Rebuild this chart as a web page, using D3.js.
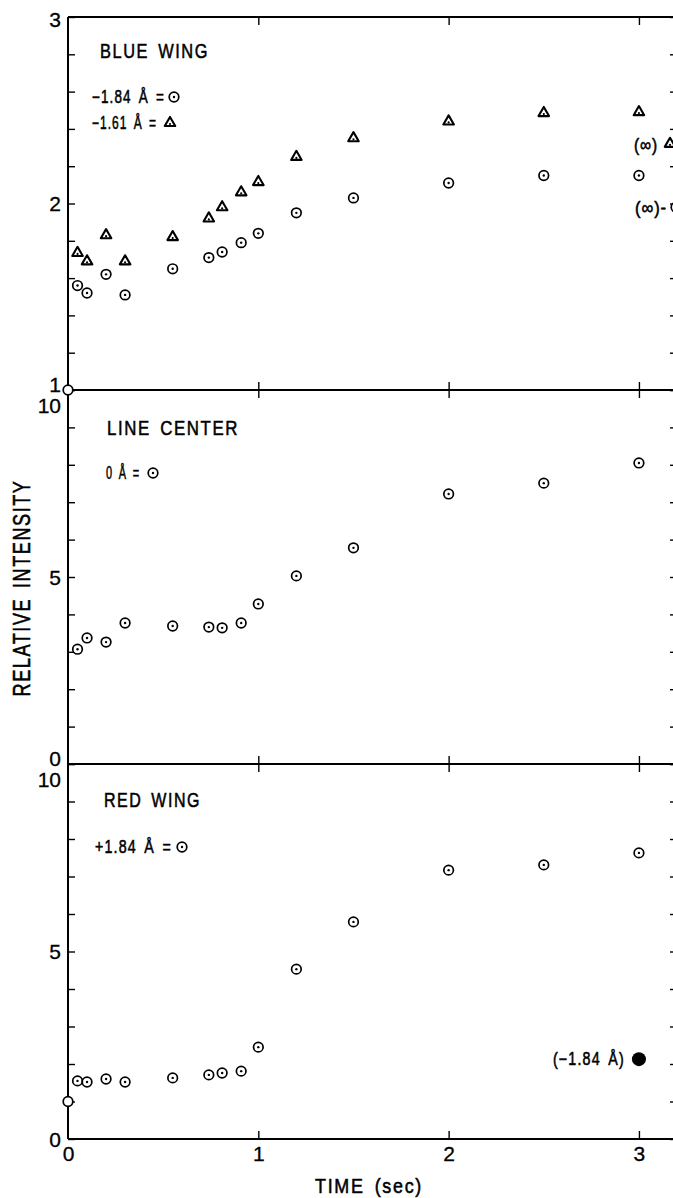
<!DOCTYPE html>
<html>
<head>
<meta charset="utf-8">
<script src="https://cdn.jsdelivr.net/npm/d3@7"></script>
<style>
  body { margin: 0; background: #fff; }
  svg { display: block; }
  text { font-family: "Liberation Sans", Arial, sans-serif; fill: #000; stroke: #000; stroke-width: 0.55px; }
  .tick line { stroke: #000; stroke-width: 1.4; }
</style>
</head>
<body>
<div id="chart"></div>
<script>
// observation times (sec)
var times = [0.05, 0.1, 0.2, 0.3, 0.55, 0.74, 0.81, 0.91, 1.0, 1.2, 1.5, 2.0, 2.5, 3.0];

// blue wing, -1.84 A (circles) and -1.61 A (triangles)
var blueCircle   = [1.56, 1.52, 1.62, 1.51, 1.65, 1.71, 1.74, 1.79, 1.84, 1.95, 2.03, 2.11, 2.15, 2.15];
var blueTriangle = [1.735, 1.69, 1.83, 1.69, 1.82, 1.92, 1.98, 2.06, 2.115, 2.25, 2.35, 2.44, 2.485, 2.49];
// line center, 0 A
var centerCircle = [3.07, 3.37, 3.26, 3.77, 3.69, 3.66, 3.64, 3.77, 4.28, 5.03, 5.78, 7.22, 7.51, 8.05];
// red wing, +1.84 A
var redCircle    = [1.55, 1.52, 1.60, 1.52, 1.63, 1.71, 1.76, 1.81, 2.45, 4.53, 5.79, 7.17, 7.31, 7.63];

// starting point at t = 0 (blue and red panels)
var startTime = [0];
var startValue = [1.0];
// -1.84 A value shown in the red panel for comparison
var compareTime = [3.0];
var compareValue = [2.13];
// (infinity) levels marked at the right of the blue panel
var infinityTriangle = [2.32];
var infinityCircle = [1.98];

// tick labels
var xTicks = [0, 1, 2, 3];
var blueMajor = [1, 2, 3];
var blueMinor = [1.2, 1.4, 1.6, 1.8, 2.2, 2.4, 2.6, 2.8];
var intMajor = [0, 5, 10];
var intMinor = [1, 2, 3, 4, 6, 7, 8, 9];

var width = 673, height = 1198;

var svg = d3.select("#chart").append("svg")
    .attr("width", width)
    .attr("height", height);

svg.append("rect").attr("width", width).attr("height", height).attr("fill", "#fff");

var xScale = d3.scaleLinear().domain([0, 3.2]).range([68, 677]);

// condensed, spaced lettering: force the width of a label
function label(g, x, y, s, size, len, spacing, anchor) {
  return g.append("text")
      .attr("x", x).attr("y", y)
      .attr("text-anchor", anchor || "start")
      .attr("textLength", len)
      .attr("lengthAdjust", "spacingAndGlyphs")
      .style("font-size", size + "px")
      .style("letter-spacing", spacing + "px")
      .style("word-spacing", (spacing * 2) + "px")
      .text(s);
}

var panels = [
  { top: 17,  bottom: 390,  domain: [1, 3],  major: blueMajor, minor: blueMinor, title: "BLUE WING",   tx: 100, ty: 58, tl: 109 },
  { top: 390, bottom: 764,  domain: [0, 10], major: intMajor,  minor: intMinor,  title: "LINE CENTER", tx: 107, ty: 435, tl: 132 },
  { top: 764, bottom: 1139, domain: [0, 10], major: intMajor,  minor: intMinor,  title: "RED WING",    tx: 104, ty: 807, tl: 97 }
];

panels.forEach(function(p, i) {
  p.y = d3.scaleLinear().domain(p.domain).range([p.bottom, p.top]);
  var all = p.major.concat(p.minor);

  // left axis, ticks pointing in
  var left = svg.append("g")
      .attr("transform", "translate(" + xScale(0) + ",0)")
      .call(d3.axisLeft(p.y).tickValues(all).tickSizeInner(-7).tickSizeOuter(0).tickPadding(7)
        .tickFormat(function(d) { return p.major.indexOf(d) >= 0 ? d : ""; }));
  left.select(".domain").remove();
  left.selectAll("text")
      .style("font-size", "21px")
      .style("stroke-width", "0.3px")
      .attr("dy", function(d) {
        if (d === p.domain[1] && i > 0) return "1.05em";
        if (d === p.domain[1]) return "0.45em";
        if (d === p.domain[0] && i < 2) return "0.05em";
        return "0.34em";
      });

  // right axis (edge cut by the page)
  var right = svg.append("g")
      .attr("transform", "translate(" + xScale(3.2) + ",0)")
      .call(d3.axisRight(p.y).tickValues(all).tickSizeInner(-7).tickSizeOuter(0).tickFormat(""));
  right.select(".domain").remove();

  // top and bottom ticks
  var topAx = svg.append("g")
      .attr("transform", "translate(0," + p.top + ")")
      .call(d3.axisTop(xScale).tickValues([1, 2, 3]).tickSizeInner(-8).tickSizeOuter(0).tickFormat(""));
  topAx.select(".domain").remove();

  var botAx = svg.append("g")
      .attr("transform", "translate(0," + p.bottom + ")")
      .call(d3.axisBottom(xScale).tickValues(i === 2 ? xTicks : [1, 2, 3]).tickSizeInner(-8).tickSizeOuter(0)
        .tickPadding(7).tickFormat(i === 2 ? d3.format("d") : ""));
  botAx.select(".domain").remove();
  botAx.selectAll("text").style("font-size", "21px").style("stroke-width", "0.3px");
  botAx.selectAll(".tick line").filter(function(d) { return d === 0; }).remove();

  // frame
  svg.append("line")
      .attr("x1", xScale(0)).attr("x2", xScale(0))
      .attr("y1", p.top).attr("y2", p.bottom)
      .attr("stroke", "#000").attr("stroke-width", 2);
  [p.top, p.bottom].forEach(function(yy) {
    svg.append("line")
        .attr("x1", xScale(0)).attr("x2", xScale(3.2))
        .attr("y1", yy).attr("y2", yy)
        .attr("stroke", "#000").attr("stroke-width", 2);
  });

  // panel title
  label(svg, p.tx, p.ty, p.title, 21, p.tl, 2);
});

function circleMark(g, cx, cy, dot) {
  g.append("circle")
      .attr("cx", cx).attr("cy", cy).attr("r", 4.8)
      .attr("fill", "#fff").attr("stroke", "#000").attr("stroke-width", 1.7);
  if (dot) {
    g.append("circle")
        .attr("cx", cx).attr("cy", cy).attr("r", 1.2)
        .attr("fill", "#000");
  }
}

var tri = d3.symbol().type(d3.symbolTriangle).size(48);
function triangleMark(g, cx, cy) {
  g.append("path")
      .attr("d", tri())
      .attr("transform", "translate(" + cx + "," + cy + ")")
      .attr("fill", "#fff").attr("stroke", "#000").attr("stroke-width", 2.1)
      .attr("stroke-linejoin", "round");
  g.append("circle")
      .attr("cx", cx).attr("cy", cy + 1).attr("r", 1.1)
      .attr("fill", "#000");
}

var marks = svg.append("g");
var blue = panels[0].y, center = panels[1].y, red = panels[2].y;

// data marks
times.forEach(function(t, k) {
  triangleMark(marks, xScale(t), blue(blueTriangle[k]));
  circleMark(marks, xScale(t), blue(blueCircle[k]), true);
  circleMark(marks, xScale(t), center(centerCircle[k]), true);
  circleMark(marks, xScale(t), red(redCircle[k]), true);
});
startTime.forEach(function(t, k) {
  circleMark(marks, xScale(t), blue(startValue[k]), false);
  circleMark(marks, xScale(t), red(startValue[k]), false);
});
compareTime.forEach(function(t, k) {
  marks.append("circle")
      .attr("cx", xScale(t)).attr("cy", red(compareValue[k])).attr("r", 7)
      .attr("fill", "#000");
  label(svg, xScale(t) - 14, red(compareValue[k]) + 6, "(\u22121.84 \u00C5)", 18, 72, 1.5, "end");
});

// infinity labels on the right of the blue panel
infinityTriangle.forEach(function(v) {
  label(svg, 634, blue(v) + 7, "(\u221E)", 18, 24, 1);
  triangleMark(marks, 670, blue(v));
});
infinityCircle.forEach(function(v) {
  label(svg, 635, blue(v) + 7, "(\u221E)-", 18, 32, 1);
  circleMark(marks, 676, blue(v), true);
});

// legends
label(svg, 92, 103, "\u22121.84 \u00C5 =", 18, 73, 1.5);
circleMark(marks, 174, 97, true);
label(svg, 92, 129, "\u22121.61 \u00C5 =", 18, 65, 1.5);
triangleMark(marks, 170, 123);
label(svg, 106, 479, "0 \u00C5 =", 18, 34, 1.5);
circleMark(marks, 153, 473, true);
label(svg, 95, 853, "+1.84 \u00C5 =", 18, 77, 1.5);
circleMark(marks, 182, 847, true);

// axis titles
label(svg, 0, 0, "RELATIVE INTENSITY", 23, 217, 2, "middle")
    .attr("transform", "translate(30,588) rotate(-90)");

label(svg, 315, 1193, "TIME (sec)", 21, 108, 2);
</script>
</body>
</html>
